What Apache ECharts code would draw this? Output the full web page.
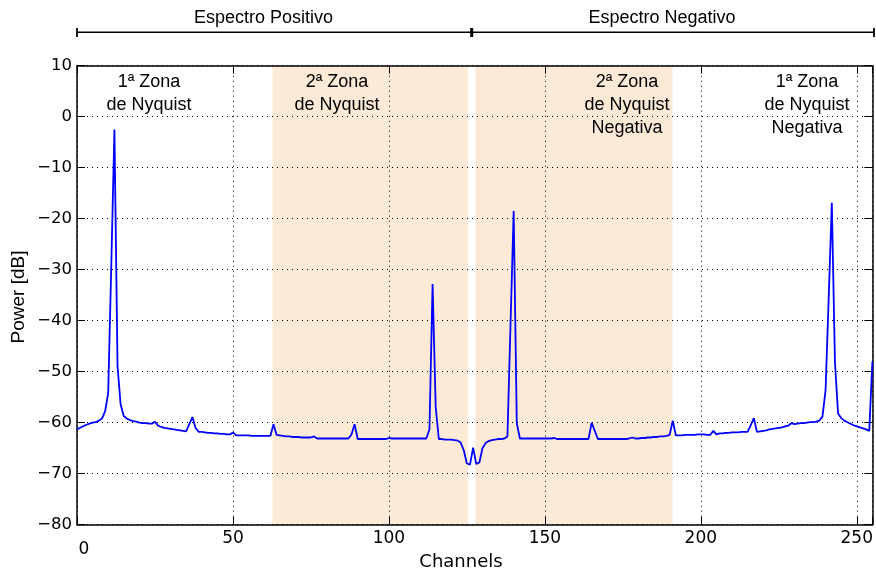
<!DOCTYPE html>
<html><head><meta charset="utf-8">
<script src="https://cdn.jsdelivr.net/npm/echarts@6/dist/echarts.min.js"></script>
<style>html,body{margin:0;padding:0;background:#fff}#c{width:876px;height:572px}</style>
</head><body><div id="c"></div>
<script>
// Power spectrum values per channel (0..255), dB
const power = [
 -61.3,-61.0,-60.7,-60.4,-60.2,-60.0,-59.9,-59.6,-59.2,-57.8,
 -54.2,-29.0,-2.5,-49.0,-56.5,-58.7,-59.2,-59.5,-59.7,-59.8,
 -60.0,-60.1,-60.1,-60.2,-60.2,-59.8,-60.6,-60.8,-61.0,-61.1,
 -61.2,-61.3,-61.4,-61.5,-61.6,-61.7,-60.3,-58.9,-61.0,-61.8,
 -61.8,-61.9,-62.0,-62.0,-62.1,-62.1,-62.2,-62.2,-62.3,-62.3,
 -61.9,-62.5,-62.5,-62.5,-62.5,-62.5,-62.6,-62.6,-62.6,-62.6,
 -62.6,-62.6,-62.6,-60.3,-62.4,-62.5,-62.6,-62.7,-62.7,-62.8,
 -62.8,-62.8,-62.9,-62.9,-62.9,-62.9,-62.7,-63.1,-63.1,-63.1,
 -63.1,-63.1,-63.1,-63.1,-63.1,-63.1,-63.1,-63.1,-62.3,-60.3,
 -63.2,-63.2,-63.2,-63.2,-63.2,-63.2,-63.2,-63.2,-63.2,-63.2,
 -63.0,-63.1,-63.1,-63.1,-63.1,-63.1,-63.1,-63.1,-63.1,-63.1,
 -63.1,-63.1,-63.1,-61.3,-32.8,-56.9,-63.2,-63.2,-63.3,-63.3,
 -63.3,-63.4,-63.5,-63.9,-65.4,-68.0,-68.2,-64.9,-68.1,-67.8,
 -65.0,-64.0,-63.6,-63.4,-63.3,-63.2,-63.2,-63.1,-62.7,-40.5,
 -18.5,-60.1,-63.1,-63.1,-63.1,-63.1,-63.1,-63.1,-63.1,-63.1,
 -63.1,-63.1,-63.1,-63.0,-63.2,-63.2,-63.2,-63.2,-63.2,-63.2,
 -63.2,-63.2,-63.2,-63.2,-63.2,-60.0,-61.6,-63.2,-63.2,-63.2,
 -63.2,-63.2,-63.2,-63.2,-63.2,-63.2,-63.2,-63.1,-62.9,-63.1,
 -63.1,-63.0,-63.0,-62.9,-62.9,-62.8,-62.8,-62.7,-62.7,-62.6,
 -62.4,-59.6,-62.5,-62.5,-62.5,-62.4,-62.4,-62.4,-62.4,-62.3,
 -62.3,-62.3,-62.4,-62.4,-61.6,-62.3,-62.1,-62.1,-62.0,-62.0,
 -61.9,-61.9,-61.9,-61.8,-61.8,-61.8,-60.5,-59.1,-61.8,-61.7,
 -61.6,-61.5,-61.3,-61.2,-61.1,-61.0,-60.9,-60.7,-60.6,-60.1,
 -60.3,-60.2,-60.1,-60.1,-60.0,-59.9,-59.9,-59.8,-59.6,-58.8,
 -53.6,-35.5,-16.9,-48.0,-58.2,-59.1,-59.6,-59.9,-60.2,-60.5,
 -60.7,-60.9,-61.1,-61.3,-61.6,-48.0
];
const xTicks = [0, 50, 100, 150, 200, 250];
const yTicks = [10, 0, -10, -20, -30, -40, -50, -60, -70, -80];
const shadedZones = [[62.7, 125.3], [127.7, 190.9]];
const zoneTexts = ['1ª Zona\nde Nyquist', '2ª Zona\nde Nyquist', '2ª Zona\nde Nyquist\nNegativa', '1ª Zona\nde Nyquist\nNegativa'];
const spectrumTexts = ['Espectro Positivo', 'Espectro Negativo'];
const xName = 'Channels';
const yName = 'Power [dB]';

const tickFont = '"DejaVu Sans"';
const annFont = '"Liberation Sans", Arial, sans-serif';
const chart = echarts.init(document.getElementById('c'), null, {renderer: 'canvas'});

const lineData = power.map((v, i) => [i, v]);
const gridLine = {show: true, lineStyle: {color: '#000', width: 1, type: [1, 4]}};

const zoneX = [149, 337, 627, 807];
const graphics = [];
zoneTexts.forEach((t, i) => graphics.push({
  type: 'text', x: zoneX[i], y: 71, z: 100,
  style: {text: t, font: '18px ' + annFont, fill: '#000', textAlign: 'center', textVerticalAlign: 'top', lineHeight: 22.7}
}));
const segs = [[77, 471.7], [471.7, 874]];
segs.forEach(([a, b], i) => {
  graphics.push({type: 'line', z: 100, shape: {x1: a, y1: 32.3, x2: b, y2: 32.3}, style: {stroke: '#000', lineWidth: 1.5}});
  graphics.push({type: 'text', z: 100, x: i === 0 ? 263.5 : 662, y: 18.5,
    style: {text: spectrumTexts[i], font: '18px ' + annFont, fill: '#000', textAlign: 'center', textVerticalAlign: 'middle'}});
});
[77, 471.7, 874].forEach(x => graphics.push({type: 'line', z: 100, shape: {x1: x, y1: 28, x2: x, y2: 37}, style: {stroke: '#000', lineWidth: x === 471.7 ? 3 : 1.8}}));
graphics.push({type: 'text', z: 100, x: 461, y: 562, style: {text: xName, font: '18px ' + tickFont, fill: '#000', textAlign: 'center', textVerticalAlign: 'middle'}});
graphics.push({type: 'text', z: 100, x: 19, y: 297, rotation: Math.PI / 2, style: {text: yName, font: '19px ' + annFont, fill: '#000', textAlign: 'center', textVerticalAlign: 'middle'}});

chart.setOption({
  animation: false,
  backgroundColor: '#fff',
  grid: {left: 77, right: 1.5, top: 65.7, bottom: 47.3, containLabel: false},
  graphic: graphics,
  xAxis: [{
    type: 'value', min: 0, max: 255, interval: 50, position: 'bottom', z: 1,
    axisLine: {show: true, onZero: false, lineStyle: {color: '#000', width: 1.5}},
    axisTick: {show: true, inside: true, length: 8, lineStyle: {color: '#000', width: 1}},
    axisLabel: {color: '#000', fontFamily: tickFont, fontSize: 17, margin: 5,
      formatter: v => v === 0 ? '{z|0}' : (xTicks.includes(v) ? String(v) : ''),
      rich: {z: {fontFamily: tickFont, fontSize: 17, color: '#000', padding: [11, 0, 0, 14]}}},
    splitLine: gridLine
  }, {
    type: 'value', min: 0, max: 255, interval: 50, position: 'top', z: 1,
    axisLine: {show: true, onZero: false, lineStyle: {color: '#000', width: 1.5}},
    axisTick: {show: true, inside: true, length: 8, lineStyle: {color: '#000', width: 1}},
    axisLabel: {show: false}, splitLine: {show: false}
  }],
  yAxis: [{
    type: 'value', min: -80, max: 10, interval: 10, position: 'left', z: 1,
    axisLine: {show: true, onZero: false, lineStyle: {color: '#000', width: 1.5}},
    axisTick: {show: true, inside: true, length: 8, lineStyle: {color: '#000', width: 1}},
    axisLabel: {color: '#000', fontFamily: tickFont, fontSize: 16.5, margin: 5,
      formatter: v => yTicks.includes(v) ? String(v).replace('-', '\u2212') : ''},
    splitLine: gridLine
  }, {
    type: 'value', min: -80, max: 10, interval: 10, position: 'right', z: 1,
    axisLine: {show: true, onZero: false, lineStyle: {color: '#000', width: 1.5}},
    axisTick: {show: true, inside: true, length: 8, lineStyle: {color: '#000', width: 1}},
    axisLabel: {show: false}, splitLine: {show: false}
  }],
  series: [{
    type: 'custom', z: 0, silent: true,
    data: shadedZones,
    renderItem: (params, api) => {
      const p0 = api.coord([api.value(0), 10]);
      const p1 = api.coord([api.value(1), -80]);
      return {type: 'rect', shape: {x: p0[0], y: p0[1], width: p1[0] - p0[0], height: p1[1] - p0[1]},
        style: {fill: '#FDEAD6'}};
    },
    encode: {x: [0, 1]}
  }, {
    type: 'line', z: 2, data: lineData, showSymbol: false, symbol: 'none',
    lineStyle: {color: '#0000FF', width: 1.8}, silent: true
  }]
});
</script>
</body></html>
